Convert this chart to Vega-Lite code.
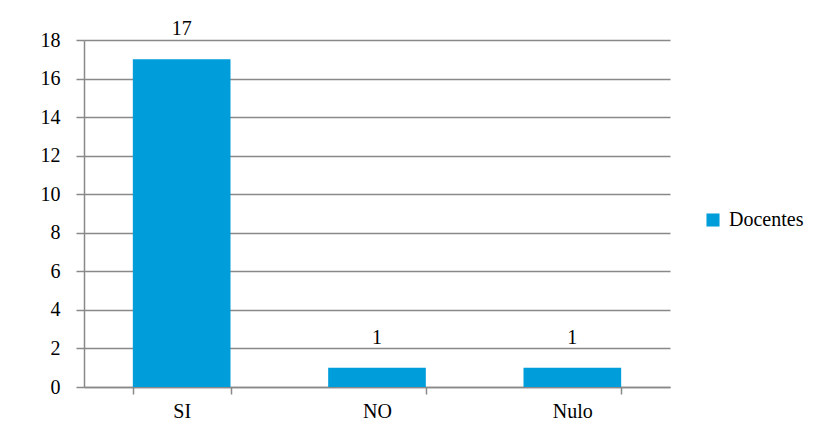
{
  "$schema": "https://vega.github.io/schema/vega-lite/v6.json",
  "width": 586,
  "height": 347,
  "autosize": {"type": "none"},
  "padding": {"left": 84, "top": 40, "right": 166, "bottom": 45},
  "background": "white",
  "config": {
    "font": "Liberation Serif",
    "view": {"stroke": null},
    "style": {"guide-label": {"font": "Liberation Serif", "fontSize": 20, "fill": "#000000"}},
    "axis": {"labelFont": "Liberation Serif", "labelFontSize": 20, "labelColor": "#000000", "labelOverlap": false, "domainColor": "#898989", "domainWidth": 1.5, "tickColor": "#898989", "tickWidth": 1.5, "gridColor": "#898989", "gridWidth": 1.5},
    "axisX": {"labelFont": "Liberation Serif", "labelFontSize": 20},
    "axisY": {"labelFont": "Liberation Serif", "labelFontSize": 20},
    "legend": {"labelFont": "Liberation Serif", "labelFontSize": 20, "labelColor": "#000000"},
    "text": {"font": "Liberation Serif", "fontSize": 20}
  },
  "data": {"values": [
    {"categoria": "SI", "valor": 17, "serie": "Docentes"},
    {"categoria": "NO", "valor": 1, "serie": "Docentes"},
    {"categoria": "Nulo", "valor": 1, "serie": "Docentes"}
  ]},
  "encoding": {
    "x": {"field": "categoria", "type": "nominal", "sort": null, "scale": {"paddingInner": 0.5, "paddingOuter": 0.25},
          "axis": {"title": null, "labelAngle": 0, "tickBand": "extent", "tickSize": 7, "labelPadding": 7, "grid": false, "labelFontSize": 20, "labelFont": "Liberation Serif"}},
    "y": {"field": "valor", "type": "quantitative", "scale": {"domain": [0, 18]},
          "axis": {"title": null, "values": [0, 2, 4, 6, 8, 10, 12, 14, 16, 18], "labelOverlap": false, "tickSize": 8, "labelPadding": 16, "grid": true, "labelFontSize": 20, "labelFont": "Liberation Serif"}}
  },
  "layer": [
    {
      "mark": {"type": "bar"},
      "encoding": {
        "color": {"field": "serie", "type": "nominal", "scale": {"range": ["#009ddb"]},
                  "legend": {"title": null, "orient": "none", "legendX": 619, "legendY": 170, "symbolType": "square", "symbolSize": 170, "symbolStrokeWidth": 0, "labelFontSize": 20, "labelFont": "Liberation Serif", "labelColor": "#000000", "padding": 0, "labelOffset": 6}}
      }
    },
    {
      "mark": {"type": "text", "baseline": "bottom", "dy": -20, "fontSize": 20, "font": "Liberation Serif", "color": "#000000"},
      "encoding": {
        "text": {"field": "valor", "type": "quantitative"}
      }
    }
  ]
}
